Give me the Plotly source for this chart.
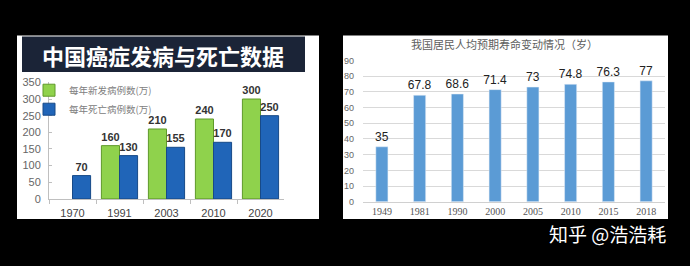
import plotly.graph_objects as go

# ---- Left chart data ----
cancer_years = ["1970", "1991", "2003", "2010", "2020"]
new_cases = [None, 160, 210, 240, 300]
deaths = [70, 130, 155, 170, 250]
cancer_title = "中国癌症发病与死亡数据"
new_name = "每年新发病例数(万)"
death_name = "每年死亡病例数(万)"

# ---- Right chart data ----
life_years = ["1949", "1981", "1990", "2000", "2005", "2010", "2015", "2018"]
life_exp = [35, 67.8, 68.6, 71.4, 73, 74.8, 76.3, 77]
life_title = "我国居民人均预期寿命变动情况（岁）"
watermark = "知乎 @浩浩耗"

W, H = 690, 266
def px(x):
    return x / W
def py(y):
    return 1 - y / H

fig = go.Figure()

fig.add_trace(go.Bar(
    x=cancer_years, y=new_cases, name=new_name,
    marker=dict(color="#8fd24c", line=dict(color="#5f9a2a", width=1)),
    text=[("" if v is None else str(v)) for v in new_cases],
    textposition="outside", cliponaxis=False, constraintext="none",
    textfont=dict(family="Liberation Sans, Arial", size=11, color="#333333", weight="bold"),
    xaxis="x", yaxis="y",
))
fig.add_trace(go.Bar(
    x=cancer_years, y=deaths, name=death_name,
    marker=dict(color="#2065b8", line=dict(color="#174a88", width=1)),
    text=[str(v) for v in deaths],
    textposition="outside", cliponaxis=False, constraintext="none",
    textfont=dict(family="Liberation Sans, Arial", size=11, color="#333333", weight="bold"),
    xaxis="x", yaxis="y",
))
fig.add_trace(go.Bar(
    x=life_years, y=life_exp, name="寿命", showlegend=False, width=0.32,
    marker=dict(color="#5b9bd5"),
    text=[("%g" % v) for v in life_exp],
    textposition="outside", cliponaxis=False, constraintext="none",
    textfont=dict(family="Liberation Sans, Arial", size=12, color="#222222"),
    xaxis="x2", yaxis="y2",
))

shapes = [
    dict(type="rect", xref="paper", yref="paper", x0=px(17), x1=px(319), y0=py(223), y1=py(31),
         fillcolor="white", line=dict(width=0), layer="below"),
    dict(type="rect", xref="paper", yref="paper", x0=px(22), x1=px(305), y0=py(69), y1=py(32),
         fillcolor="#1b2437", line=dict(width=0), layer="below"),
    dict(type="rect", xref="paper", yref="paper", x0=px(343), x1=px(668), y0=py(223), y1=py(31),
         fillcolor="white", line=dict(width=0), layer="below"),
]

annotations = [
    dict(text=cancer_title, xref="paper", yref="paper", x=px(163), y=py(51),
         showarrow=False, xanchor="center", yanchor="middle",
         font=dict(family="Noto Sans CJK SC", size=22, color="white", weight="bold")),
    dict(text=life_title, xref="paper", yref="paper", x=px(504), y=py(40),
         showarrow=False, xanchor="center", yanchor="middle",
         font=dict(family="Noto Sans CJK SC", size=11, color="#606060")),
    dict(text=watermark, xref="paper", yref="paper", x=px(607), y=py(238),
         showarrow=False, xanchor="center", yanchor="middle",
         font=dict(family="Noto Sans CJK SC", size=19, color="white")),
]

fig.update_layout(
    width=W, height=H,
    margin=dict(l=0, r=0, t=0, b=0),
    paper_bgcolor="black", plot_bgcolor="rgba(0,0,0,0)",
    barmode="group", bargap=0.23, bargroupgap=0,
    shapes=shapes, annotations=annotations,
    showlegend=True,
    legend=dict(x=px(29), y=py(73), xanchor="left", yanchor="top",
                bgcolor="rgba(0,0,0,0)", tracegroupgap=0, itemwidth=30,
                font=dict(family="Noto Sans CJK SC", size=9.5, color="#808080")),
    xaxis=dict(domain=[px(49), px(284)], anchor="y", type="category",
               showline=True, linecolor="#bfbfbf", linewidth=1,
               ticks="outside", ticklen=4, tickcolor="#bfbfbf", tickson="boundaries",
               tickfont=dict(family="Liberation Sans, Arial", size=11, color="#444444"),
               showgrid=False, ticklabelstandoff=4),
    yaxis=dict(domain=[py(202), py(80)], anchor="x", range=[0, 350], dtick=50,
               showline=True, linecolor="#bfbfbf", linewidth=1,
               ticks="inside", ticklen=3, tickcolor="#bfbfbf",
               tickfont=dict(family="Liberation Sans, Arial", size=11, color="#666666"),
               showgrid=False, zeroline=False, ticklabelstandoff=5),
    xaxis2=dict(domain=[px(363), px(665)], anchor="y2", type="category",
                showline=True, linecolor="#d0d0d0", linewidth=1, ticks="",
                tickfont=dict(family="Liberation Serif", size=10, color="#555555"),
                showgrid=False),
    yaxis2=dict(domain=[py(205), py(57)], anchor="x2", range=[0, 90], dtick=10,
                showline=False, showgrid=True, gridcolor="#d9d9d9", gridwidth=1,
                zeroline=False, ticks="",
                tickfont=dict(family="Liberation Sans, Arial", size=9, color="#666666"),
                ticklabelstandoff=8),
)

fig.write_html("out.html")
